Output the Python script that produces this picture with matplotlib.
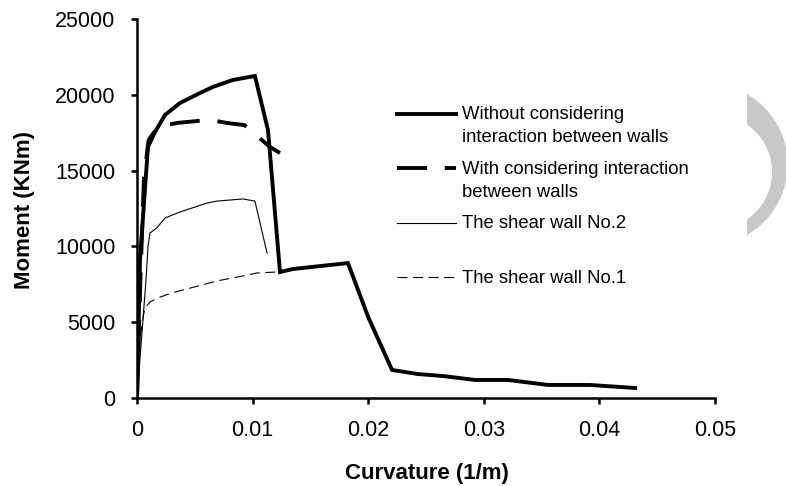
import matplotlib
matplotlib.use('Agg')
import numpy as np
import matplotlib.pyplot as plt
from matplotlib.patches import Polygon

plt.rcParams['font.family'] = ['Liberation Sans', 'DejaVu Sans']

# curvature (1/m) / moment (kNm)
x_without = [0, 0.00026, 0.0007, 0.00095, 0.00156, 0.00242, 0.00372, 0.00545, 0.00657, 0.0083,
             0.0102, 0.01133, 0.01237, 0.0135, 0.01825, 0.0200, 0.02206, 0.0243, 0.02647,
             0.02924, 0.0321, 0.03555, 0.0392, 0.04308]
y_without = [0, 9100, 13920, 16560, 17550, 18670, 19460, 20120, 20520, 20980,
             21240, 17680, 8310, 8510, 8900, 5340, 1850, 1580, 1450,
             1190, 1190, 860, 860, 660]

x_with = [0, 0.0003, 0.0006, 0.001, 0.0018, 0.00355, 0.0063, 0.0078, 0.0093, 0.0102, 0.0115, 0.01237]
y_with = [0, 8000, 14500, 17000, 17900, 18150, 18350, 18140, 18000, 17410, 16560, 16160]

x_wall2 = [0, 0.0008, 0.00095, 0.00112, 0.0017, 0.00242, 0.00372, 0.00606, 0.00692, 0.00917, 0.0102, 0.01125]
y_wall2 = [0, 8000, 10000, 10880, 11210, 11870, 12270, 12860, 12990, 13130, 12990, 9560]

x_wall1 = [0, 0.00026, 0.00052, 0.0007, 0.00112, 0.0018, 0.003, 0.0043, 0.0056, 0.0069, 0.0087, 0.0104, 0.0121]
y_wall1 = [0, 3830, 5340, 5940, 6330, 6600, 6930, 7190, 7450, 7720, 7980, 8250, 8310]

labels = ["Without considering\ninteraction between walls",
          "With considering interaction\nbetween walls",
          "The shear wall No.2\n ",
          "The shear wall No.1"]

x_ticks = [0, 0.01, 0.02, 0.03, 0.04, 0.05]
x_ticklabels = ["0", "0.01", "0.02", "0.03", "0.04", "0.05"]
y_ticks = [0, 5000, 10000, 15000, 20000, 25000]

fig = plt.figure(figsize=(7.86, 4.86), dpi=100)
ax = fig.add_axes([137 / 786, 1 - 398 / 486, (715 - 137) / 786, (398 - 19) / 486])

ax.plot(x_without, y_without, color='black', lw=2.8, solid_joinstyle='miter', label=labels[0])
ax.plot(x_with, y_with, color='black', lw=2.8, dashes=(7.7, 4.6), label=labels[1])
ax.plot(x_wall2, y_wall2, color='black', lw=0.8, label=labels[2])
ax.plot(x_wall1, y_wall1, color='black', lw=0.8, dashes=(9, 5), label=labels[3])

ax.set_xlim(0, 0.05)
ax.set_ylim(0, 25000)
ax.set_xticks(x_ticks)
ax.set_xticklabels(x_ticklabels)
ax.set_yticks(y_ticks)
for s in ['top', 'right']:
    ax.spines[s].set_visible(False)
for s in ['left', 'bottom']:
    ax.spines[s].set_linewidth(1.8)
ax.tick_params(direction='out', length=4.5, width=1.8, labelsize=15.5, pad=11)
ax.set_xlabel("Curvature (1/m)", fontsize=16, fontweight='bold')
ax.set_ylabel("Moment (KNm)", fontsize=16, fontweight='bold')
ax.xaxis.set_label_coords(0.502, -0.172)
ax.yaxis.set_label_coords(-0.176, 0.496)

leg = ax.legend(loc='upper left', bbox_to_anchor=(397 / 786, 1 - 106 / 486),
                bbox_transform=fig.transFigure, frameon=False, fontsize=13.3,
                handlelength=3.2, handletextpad=0.3, labelspacing=0.76,
                borderpad=0, borderaxespad=0, handleheight=1.14)
for txt in leg.get_texts():
    txt.set_linespacing(1.5)
for col in leg._legend_handle_box.get_children():
    for row in col.get_children():
        row.align = 'top'

# grey crescent at the right page edge
t = np.linspace(-1.2, 1.2, 60)
ro, cxo, cyo = 81.4, 706.3, 164.5
ri, cxi, cyi = 57.6, 714.4, 172.0
outer = [(cxo + ro * np.cos(a), cyo + ro * np.sin(a)) for a in t]
inner = [(cxi + ri * np.cos(a), cyi + ri * np.sin(a)) for a in t[::-1]]
pts = [(max(px, 747) / 786, 1 - py / 486) for px, py in outer + inner]
fig.patches.append(Polygon(pts, closed=True, transform=fig.transFigure,
                           facecolor='#c8c8c8', edgecolor='none'))

fig.savefig('out.png', dpi=100)
